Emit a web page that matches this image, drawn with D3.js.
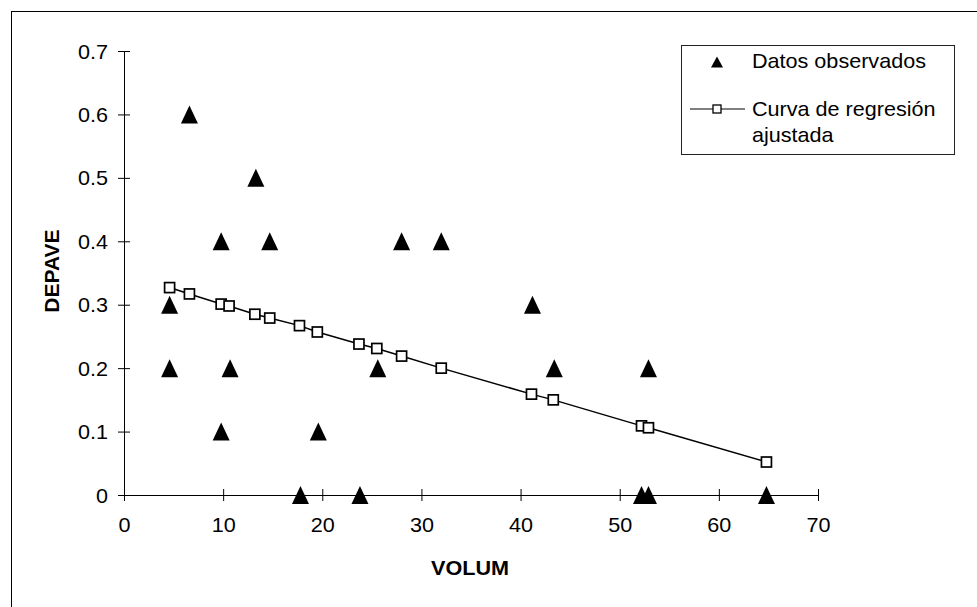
<!DOCTYPE html>
<html>
<head>
<meta charset="utf-8">
<script src="https://cdn.jsdelivr.net/npm/d3@7"></script>
<style>
  body { margin:0; background:#fff; }
  svg text { font-family: "Liberation Sans", Arial, sans-serif; fill:#000; }
</style>
</head>
<body>
<svg id="chart" width="977" height="607"></svg>
<script>
// observed points
var volum  = [4.6, 4.6, 6.6, 9.8, 9.8, 10.7, 13.3, 14.7, 17.8, 19.6, 23.8, 25.6, 28.0, 32.0, 41.2, 43.4, 52.2, 52.9, 52.9, 64.8];
var depave = [0.3, 0.2, 0.6, 0.4, 0.1, 0.2, 0.5, 0.4, 0.0, 0.1, 0.0, 0.2, 0.4, 0.4, 0.3, 0.2, 0.0, 0.0, 0.2, 0.0];

// fitted regression curve
var fitX = [4.6, 6.6, 9.8, 10.6, 13.2, 14.7, 17.7, 19.5, 23.7, 25.5, 28.0, 32.0, 41.1, 43.3, 52.2, 52.9, 64.8];
var fitY = [0.327, 0.317, 0.301, 0.298, 0.285, 0.279, 0.267, 0.257, 0.238, 0.231, 0.219, 0.200, 0.159, 0.150, 0.109, 0.106, 0.052];

var xTicks = [0, 10, 20, 30, 40, 50, 60, 70];
var yTicks = [0, 0.1, 0.2, 0.3, 0.4, 0.5, 0.6, 0.7];
var legendLabels = ["Datos observados", "Curva de regresión", "ajustada"];

var svg = d3.select("#chart");
var sx = 1.08; // source text is slightly stretched horizontally

// outer frame (cut off at right / bottom like the source)
svg.append("rect")
  .attr("x", 11.5).attr("y", 11.5)
  .attr("width", 1000).attr("height", 1000)
  .attr("fill", "none").attr("stroke", "#000").attr("stroke-width", 1);

var x = d3.scaleLinear().domain([0, 70]).range([124, 818]);
var y = d3.scaleLinear().domain([0, 0.7]).range([495, 51]);

// x axis
var gx = svg.append("g")
  .attr("transform", "translate(0," + y(0) + ")")
  .call(d3.axisBottom(x).tickValues(xTicks).tickSize(6).tickSizeOuter(0));
gx.select(".domain").attr("stroke", "#000");
gx.selectAll(".tick line").attr("y1", -6).attr("stroke", "#000");
gx.selectAll(".tick text")
  .attr("y", 30).attr("dy", "0.35em")
  .attr("transform", "scale(" + sx + ",1)")
  .style("font-size", "20px");

// y axis
var gy = svg.append("g")
  .attr("transform", "translate(" + x(0) + ",0)")
  .call(d3.axisLeft(y).tickValues(yTicks).tickSize(6).tickSizeOuter(0)
    .tickFormat(function(d){ return d === 0 ? "0" : d3.format(".1f")(d); }));
gy.select(".domain").attr("stroke", "#000");
gy.selectAll(".tick line").attr("x1", 6).attr("stroke", "#000");
gy.selectAll(".tick text")
  .attr("x", -16 / sx).attr("dy", "0.35em")
  .attr("transform", "scale(" + sx + ",1)")
  .style("font-size", "20px");

// axis titles
svg.append("text")
  .attr("transform", "translate(470,568) scale(1.03,1)")
  .attr("dy", "0.35em")
  .attr("text-anchor", "middle")
  .style("font-size", "21px").style("font-weight", "bold")
  .text("VOLUM");

svg.append("text")
  .attr("transform", "translate(52,271) rotate(-90)")
  .attr("dy", "0.35em")
  .attr("text-anchor", "middle")
  .style("font-size", "21px").style("font-weight", "bold")
  .text("DEPAVE");

// regression line + squares
var line = d3.line()
  .x(function(d){ return x(d[0]); })
  .y(function(d){ return y(d[1]); });
var fit = fitX.map(function(v, i){ return [v, fitY[i]]; });

svg.append("path")
  .datum(fit)
  .attr("d", line)
  .attr("fill", "none").attr("stroke", "#000").attr("stroke-width", 1.5);

svg.selectAll(".sq")
  .data(fit)
  .enter().append("rect")
  .attr("class", "sq")
  .attr("x", function(d){ return x(d[0]) - 5; })
  .attr("y", function(d){ return y(d[1]) - 5; })
  .attr("width", 10).attr("height", 10)
  .attr("fill", "#fff").attr("stroke", "#000").attr("stroke-width", 1.7);

// observed triangles
var tri = function(w, h){
  return "M0," + (-h/2) + "L" + (w/2) + "," + (h/2) + "L" + (-w/2) + "," + (h/2) + "Z";
};
var obs = volum.map(function(v, i){ return [v, depave[i]]; });

svg.selectAll(".tri")
  .data(obs)
  .enter().append("path")
  .attr("class", "tri")
  .attr("d", tri(17, 18))
  .attr("transform", function(d){ return "translate(" + x(d[0]) + "," + y(d[1]) + ")"; })
  .attr("fill", "#000");

// legend
var lg = svg.append("g");
lg.append("rect")
  .attr("x", 681.5).attr("y", 45.5)
  .attr("width", 273).attr("height", 109)
  .attr("fill", "#fff").attr("stroke", "#222").attr("stroke-width", 1);

lg.append("path")
  .attr("d", tri(12, 11))
  .attr("transform", "translate(717,62)")
  .attr("fill", "#000");

lg.append("line")
  .attr("x1", 690).attr("x2", 745).attr("y1", 109).attr("y2", 109)
  .attr("stroke", "#000").attr("stroke-width", 1.2);
lg.append("rect")
  .attr("x", 713).attr("y", 105).attr("width", 8).attr("height", 8)
  .attr("fill", "#fff").attr("stroke", "#000").attr("stroke-width", 1.3);

var lgY = [68, 116, 142];
lg.selectAll(".lt")
  .data(legendLabels)
  .enter().append("text")
  .attr("class", "lt")
  .attr("transform", function(d, i){ return "translate(752," + lgY[i] + ") scale(" + sx + ",1)"; })
  .style("font-size", "20px")
  .text(function(d){ return d; });
</script>
</body>
</html>
